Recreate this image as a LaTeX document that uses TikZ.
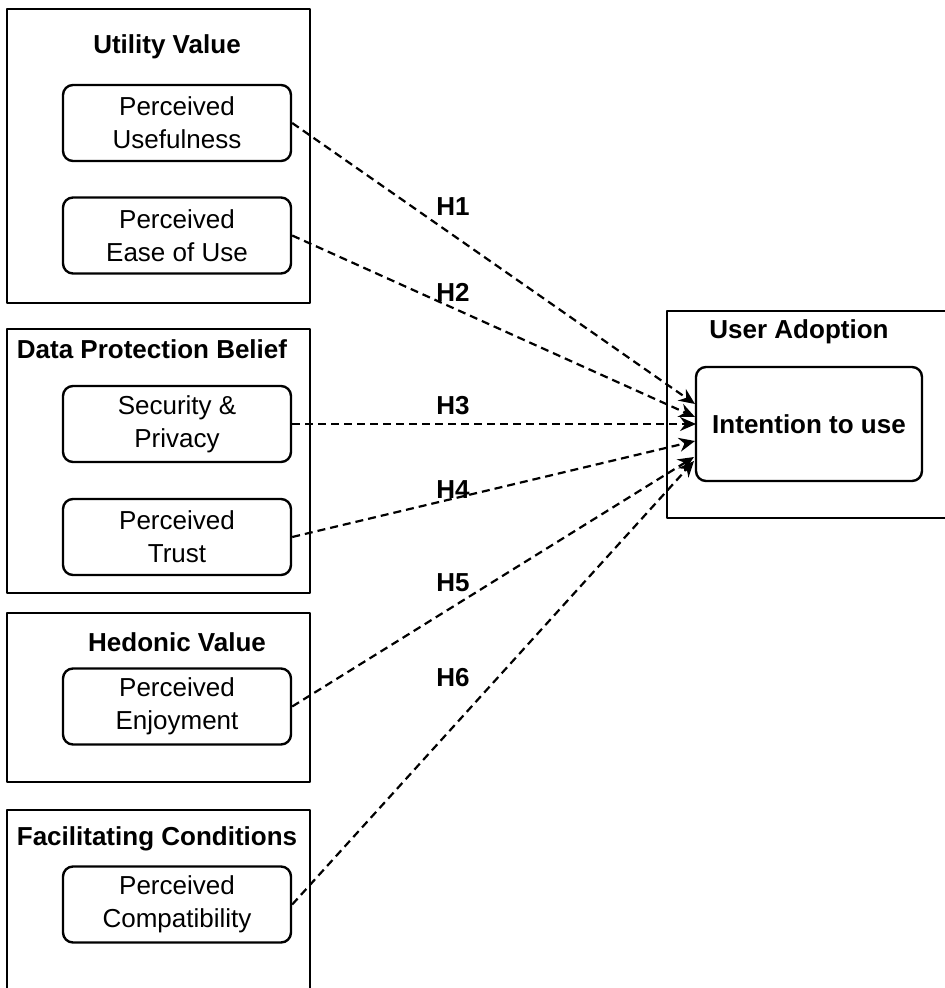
\documentclass[tikz,border=0pt]{standalone}
\usepackage{fontspec}
\setmainfont{Liberation Sans}
\usetikzlibrary{arrows.meta}
\begin{document}
\begin{tikzpicture}[x=0.5pt,y=-0.5pt,>={Stealth[length=8pt,width=7pt]},
		font=\fontsize{13}{16.5}\selectfont, line join=round,
		group/.style={line width=1.2pt},
		factor/.style={draw,line width=1.2pt,rounded corners=5pt,align=center,
			minimum width=114pt,minimum height=38pt,inner sep=0pt},
		title/.style={font=\fontsize{13}{16.5}\selectfont\bfseries},
		hyp/.style={->,dash pattern=on 4pt off 2.5pt,line width=1.1pt}]
	\useasboundingbox (0,0) rectangle (945,988);
	\clip (0,0) rectangle (945,988);
	% groups (left)
	\draw[group] (7,9) rectangle (310,303);
	\draw[group] (7,329) rectangle (310,593);
	\draw[group] (7,613) rectangle (310,782);
	\draw[group] (7,995)--(7,810)--(310,810)--(310,995);
	\node[title] (uv) at (167,47) {Utility Value};
	\node[title] (dpb) at (152,349) {Data Protection Belief};
	\node[title] (hv) at (177,642) {Hedonic Value};
	\node[title] (fc) at (157,839) {Facilitating Conditions};
	% factors
	\node[factor] (pu) at (177,123) {Perceived\\Usefulness};
	\node[factor] (peou) at (177,235.5) {Perceived\\Ease of Use};
	\node[factor] (sp) at (177,424) {Security \&\\Privacy};
	\node[factor] (pt) at (177,537) {Perceived\\Trust};
	\node[factor] (pe) at (177,706.5) {Perceived\\Enjoyment};
	\node[factor] (pc) at (177,904.5) {Perceived\\Compatibility};
	% user adoption (right)
	\draw[group] (955,311)--(667,311)--(667,518)--(955,518);
	\node[title] (ua) at (799,332) {User Adoption};
	\node[factor,minimum width=113pt,minimum height=57pt,font=\fontsize{13}{16.5}\selectfont\bfseries] (itu) at (809,424) {Intention to use};
	% arrow ends
	\coordinate (t1) at (695,404);
	\coordinate (t2) at (695,417);
	\coordinate (t3) at (696,424);
	\coordinate (t4) at (695,441);
	\coordinate (t5) at (694,457);
	\coordinate (t6) at (694,461);
	\draw[hyp] (pu.east)--(t1);
	\draw[hyp] (peou.east)--(t2);
	\draw[hyp] (sp.east)--(t3);
	\draw[hyp] (pt.east)--(t4);
	\draw[hyp] (pe.east)--(t5);
	\draw[hyp] (pc.east)--(t6);
	% hypotheses
	\node[title] (h1) at (453,207) {H1};
	\node[title] (h2) at (453,292) {H2};
	\node[title] (h3) at (453,406) {H3};
	\node[title] (h4) at (453,490) {H4};
	\node[title] (h5) at (453,583) {H5};
	\node[title] (h6) at (453,678) {H6};
\end{tikzpicture}
\end{document}
